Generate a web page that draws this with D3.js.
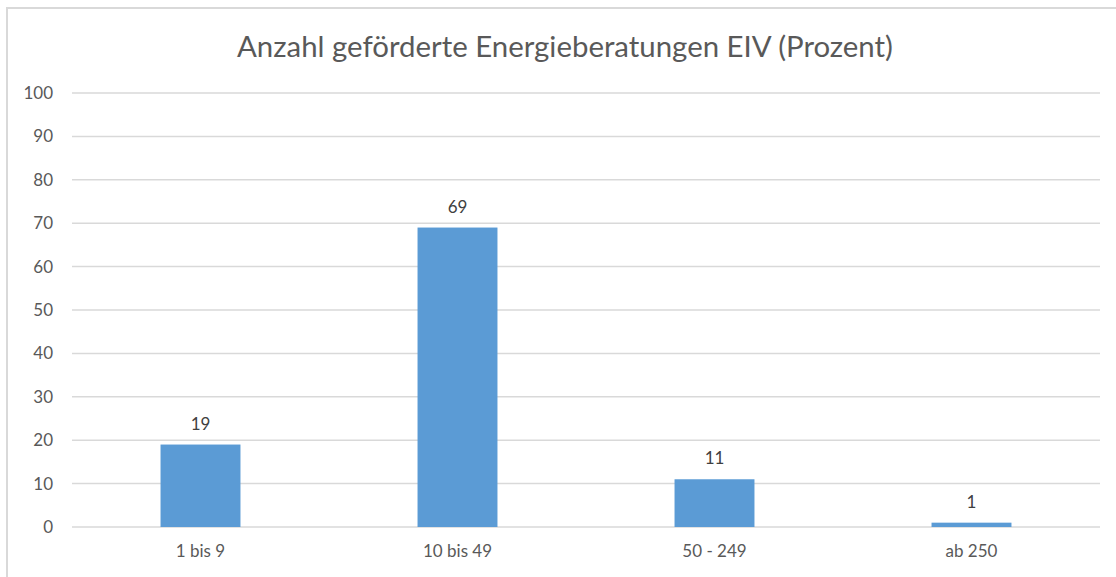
<!DOCTYPE html>
<html lang="de">
<head>
<meta charset="utf-8">
<script src="https://d3js.org/d3.v7.min.js"></script>
<style>
  html, body { margin: 0; padding: 0; background: #fff; }
  svg { display: block; font-family: Lato, "Open Sans", sans-serif; }
</style>
</head>
<body>
<svg width="1116" height="577"></svg>
<script>
// data
var categories = ["1 bis 9", "10 bis 49", "50 - 249", "ab 250"];
var values = [19, 69, 11, 1];
var yTicks = [0, 10, 20, 30, 40, 50, 60, 70, 80, 90, 100];
var title = "Anzahl geförderte Energieberatungen EIV (Prozent)";

var svg = d3.select("svg");

// chart frame
svg.append("rect")
  .attr("x", 7).attr("y", 8)
  .attr("width", 1124).attr("height", 600)
  .attr("fill", "none")
  .attr("stroke", "#d9d9d9")
  .attr("stroke-width", 2);

var x = d3.scaleBand()
  .domain(categories)
  .range([72, 1100])
  .paddingInner(0.689)
  .paddingOuter(0.3445);

var y = d3.scaleLinear()
  .domain([0, 100])
  .range([527, 93]);

// gridlines
svg.append("g")
  .selectAll("line")
  .data(yTicks)
  .enter().append("line")
    .attr("x1", 72).attr("x2", 1100)
    .attr("y1", function(d) { return y(d); })
    .attr("y2", function(d) { return y(d); })
    .attr("stroke", "#d9d9d9")
    .attr("stroke-width", 1.5);

// y axis labels
var yAxis = d3.axisLeft(y).tickValues(yTicks).tickSize(0).tickPadding(0);
var gy = svg.append("g")
  .attr("transform", "translate(53,0)")
  .call(yAxis);
gy.select(".domain").remove();
gy.selectAll("text")
  .attr("fill", "#595959")
  .style("font-size", "17px")
  .style("font-family", "Lato, sans-serif");

// bars
svg.append("g")
  .selectAll("rect")
  .data(values)
  .enter().append("rect")
    .attr("x", function(d, i) { return x(categories[i]); })
    .attr("width", x.bandwidth())
    .attr("y", function(d) { return y(d); })
    .attr("height", function(d) { return y(0) - y(d); })
    .attr("fill", "#5b9bd5");

// value labels
svg.append("g")
  .selectAll("text")
  .data(values)
  .enter().append("text")
    .attr("x", function(d, i) { return x(categories[i]) + x.bandwidth() / 2; })
    .attr("y", function(d) { return y(d) - 15; })
    .attr("text-anchor", "middle")
    .attr("fill", "#404040")
    .style("font-size", "17px")
    .text(function(d) { return d; });

// x axis labels
var xAxis = d3.axisBottom(x).tickSize(0).tickPadding(0);
var gx = svg.append("g")
  .attr("transform", "translate(0,545)")
  .call(xAxis);
gx.select(".domain").remove();
gx.selectAll("text")
  .attr("fill", "#595959")
  .style("font-size", "17px")
  .style("font-family", "Lato, sans-serif");

// title
svg.append("text")
  .attr("x", 565)
  .attr("y", 57)
  .attr("text-anchor", "middle")
  .attr("fill", "#595959")
  .style("font-size", "29.4px")
  .text(title);
</script>
</body>
</html>
